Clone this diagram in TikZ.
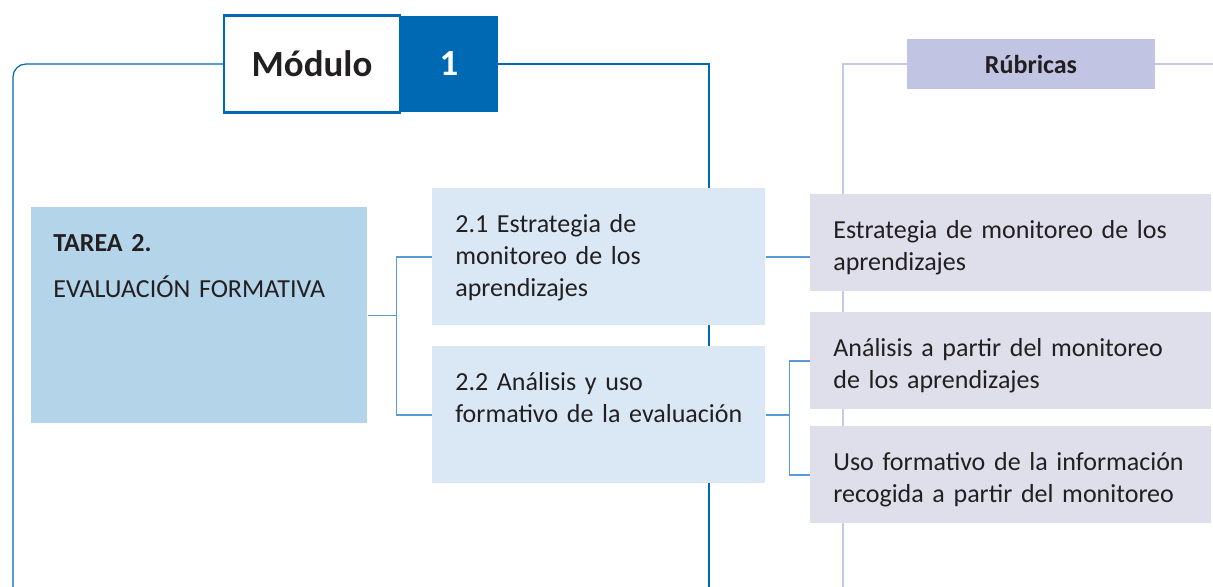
\documentclass[tikz,border=0pt]{standalone}
\usepackage{fontspec}
\setmainfont{Carlito}
\usetikzlibrary{positioning, backgrounds}
\definecolor{modblue}{HTML}{0069B4}
\definecolor{linkblue}{HTML}{5B9BD5}
\definecolor{taskfill}{HTML}{B4D4EA}
\definecolor{subfill}{HTML}{DAE8F5}
\definecolor{rubfill}{HTML}{DEDFEA}
\definecolor{headfill}{HTML}{C1C5E3}
\definecolor{rubline}{HTML}{C5C9E9}
\definecolor{ink}{HTML}{231F20}
\newcommand{\boxfont}{\fontsize{14.8pt}{18.2pt}\selectfont}
\newcommand{\bigfont}{\fontsize{21pt}{25pt}\selectfont\bfseries}
\tikzset{module node/.style={draw=modblue, line width=1.2pt, fill=white, minimum width=3.52cm, minimum height=1.94cm, font=\bigfont, text=ink},
  number node/.style={fill=modblue, minimum width=1.96cm, minimum height=1.94cm, font=\bigfont, text=white},
  header node/.style={fill=headfill, minimum width=4.96cm, minimum height=1.02cm, font=\boxfont\bfseries, text=ink},
  flush text/.style={anchor=north west, inner xsep=0.2cm, inner ysep=0pt, font=\boxfont, text=ink,
    execute at begin node={\leftskip=#1\rightskip=0pt plus 1fil\hyphenpenalty=10000\relax}},
  task node/.style={flush text=0.24cm, fill=taskfill, text width=6.32cm, text height=0.89cm, text depth=3.43cm},
  sub node/.style={flush text=0.26cm, fill=subfill, text width=6.26cm, text height=0.88cm, text depth=1.86cm},
  rubric node/.style={flush text=0.26cm, fill=rubfill, text width=7.62cm, text height=0.88cm, text depth=1.06cm},
  link/.style={draw=linkblue, line width=0.8pt},
  frame/.style={draw=modblue, line width=0.7pt},
  rubric frame/.style={draw=rubline, line width=0.7pt}
}

\begin{document}
\begin{tikzpicture}[x=0.02cm, y=-0.02cm]
  \useasboundingbox (0,0) rectangle (1213,587);
  % Headers
  \node[module node] (modulo) at (312,64) {Módulo};
  \node[number node] (num) at (449,64) {1};
  \node[header node] (rubricas) at (1031,64) {Rúbricas};
  % Task
  \node[task node] (tarea) at (31,207) {\textbf{TAREA 2.}\\[0.28cm]EVALUACIÓN FORMATIVA};
  % Subtasks
  \node[sub node] (t21) at (432,188) {2.1 Estrategia de\\monitoreo de los\\aprendizajes};
  \node[sub node] (t22) at (432,346) {2.2 Análisis y uso\\formativo de la evaluación};
  % Rubrics
  \node[rubric node] (r1) at (810,194) {Estrategia de monitoreo de los\\aprendizajes};
  \node[rubric node] (r2) at (810,312) {Análisis a partir del monitoreo\\de los aprendizajes};
  \node[rubric node] (r3) at (810,426) {Uso formativo de la información\\recogida a partir del monitoreo};
  % Connections
  \draw[link] (tarea.east) -- ++(29,0) |- (t21.west);
  \draw[link] (tarea.east) -- ++(29,0) |- (t22.west);
  \draw[link] (t21.east) -- (t21.east -| r1.west);
  \draw[link] (t22.east) -- ++(24,0) |- (r2.west);
  \draw[link] (t22.east) -- ++(24,0) |- (r3.west);
  % Frames
  \begin{pgfonlayer}{background}
    \draw[frame, rounded corners=0.26cm] (modulo.west) -- (13,64) -- (13,600) -- (200,600);
    \draw[frame] (num.east) -- (709,64) -- (709,600);
    \draw[rubric frame] (rubricas.west) -- (843,64) -- (843,600);
    \draw[rubric frame] (rubricas.east) -- (1220,64);
  \end{pgfonlayer}
\end{tikzpicture}
\end{document}
